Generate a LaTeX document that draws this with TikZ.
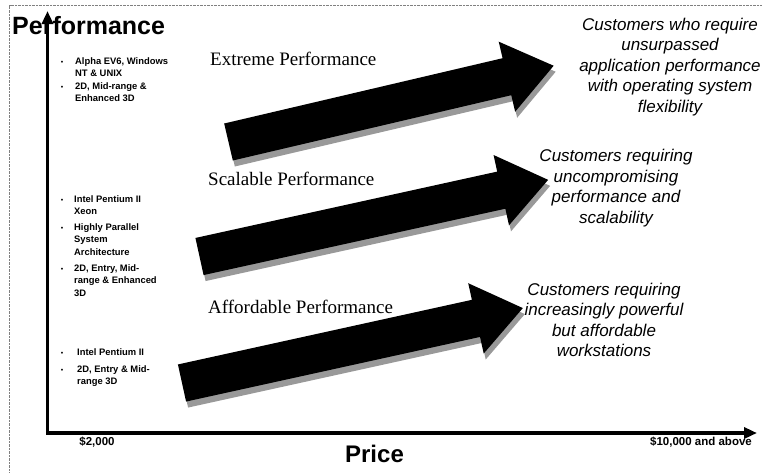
\documentclass[tikz,border=0pt]{standalone}
\usepackage{fontspec}
\setmainfont{Liberation Serif}
\setsansfont{Liberation Sans}
\usetikzlibrary{arrows.meta}
\begin{document}
\begin{tikzpicture}[x=1pt,y=-1pt,
    spec/.style={anchor=north west,inner sep=0pt,align=left,font=\sffamily\bfseries\fontsize{9.4}{12.3}\selectfont},
    dot/.style={inner sep=0pt,font=\sffamily\fontsize{7}{7}\selectfont},
    tier/.style={anchor=base west,inner sep=0pt,font=\fontsize{19}{23}\selectfont},
    need/.style={align=center,inner sep=0pt,font=\sffamily\itshape\fontsize{17}{20.5}\selectfont},
    tick/.style={inner sep=0pt,font=\sffamily\bfseries\fontsize{11.5}{14}\selectfont},
    axtitle/.style={anchor=base west,inner sep=0pt,font=\sffamily\bfseries\fontsize{25}{25}\selectfont}]
    \useasboundingbox (0,0) rectangle (762,472);
    \draw [gray,densely dotted] (9.5,472) -- (9.5,5.5) -- (762,5.5);
    \def\arrowpath{(0,-19) -- (\len,-19) -- (\len,-36) -- (\len+48,0) -- (\len,36) -- (\len,19) -- (0,19) -- cycle}
    \foreach \tx/\ty/\len/\ang in {228.5/142/286/13.2,199.5/256.5/309/12.4,182/383/301/12.4}{
        \fill [black!40,shift={(\tx+2,\ty+6)},rotate=\ang] \arrowpath;
        \fill [black,shift={(\tx,\ty)},rotate=\ang] \arrowpath;
    }
    \node [tier] (extreme) at (210,65) {Extreme Performance};
    \node [tier] (scalable) at (208,185) {Scalable Performance};
    \node [tier] (affordable) at (208,313) {Affordable Performance};
    \node [need] (needtop) at (670,67) {Customers who require\\unsurpassed\\application performance\\with operating system\\flexibility};
    \node [need] (needmid) at (616,188) {Customers requiring\\uncompromising\\performance and\\scalability};
    \node [need] (needlow) at (604,320) {Customers requiring\\increasingly powerful\\but affordable\\workstations};
    \foreach \x/\y/\txt [count=\i] in {75/61/{Alpha EV6, Windows\\NT \& UNIX},75/86/{2D, Mid-range \&\\Enhanced 3D},
        74/199/{Intel Pentium II\\Xeon},74/227/{Highly Parallel\\System\\Architecture},74/268/{2D, Entry, Mid-\\range \& Enhanced\\3D},
        77/352/{Intel Pentium II},77/369/{2D, Entry \& Mid-\\range 3D}}{
        \node [spec] (spec\i) at (\x,\y-3.5) {\txt};
        \node [dot] (dot\i) at (62,\y+1.5) {\textbullet};
    }
    \node [axtitle] (perf) at (12,34) {Performance};
    \coordinate (origin) at (47.5,433);
    \coordinate (ytop) at (47.5,11);
    \coordinate (xend) at (757,433);
    \draw [line width=3.5pt,{Triangle[length=13pt,width=11pt]}-{Triangle[length=13pt,width=11pt]}] (ytop) -- (origin) -- (xend);
    \node [tick] (low) at (97,442) {\$2,000};
    \node [tick] (high) at (701,442) {\$10,000 and above};
    \node [axtitle,anchor=base,font=\sffamily\bfseries\fontsize{24}{24}\selectfont] (price) at (374.5,462) {Price};
\end{tikzpicture}
\end{document}
